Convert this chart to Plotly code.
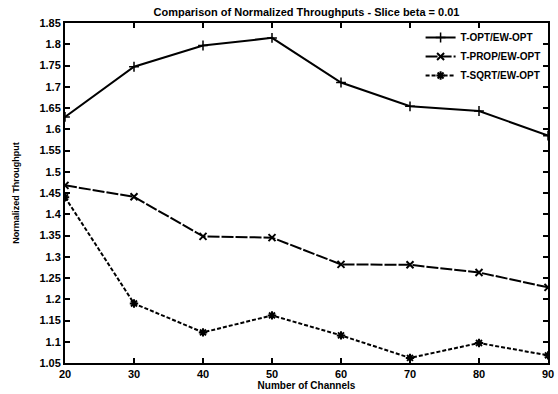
import plotly.graph_objects as go

channels = [20, 30, 40, 50, 60, 70, 80, 90]
t_opt = [1.629, 1.747, 1.797, 1.815, 1.710, 1.654, 1.643, 1.585]
t_prop = [1.468, 1.441, 1.348, 1.345, 1.282, 1.281, 1.263, 1.228]
t_sqrt = [1.440, 1.190, 1.122, 1.162, 1.115, 1.062, 1.097, 1.068]

y_ticks = [1.05, 1.1, 1.15, 1.2, 1.25, 1.3, 1.35, 1.4, 1.45, 1.5, 1.55, 1.6, 1.65, 1.7, 1.75, 1.8, 1.85]
y_tick_text = ["1.05", "1.1", "1.15", "1.2", "1.25", "1.3", "1.35", "1.4", "1.45", "1.5",
               "1.55", "1.6", "1.65", "1.7", "1.75", "1.8", "1.85"]
x_ticks = [20, 30, 40, 50, 60, 70, 80, 90]

FONT = "Liberation Sans Narrow, Liberation Sans, Arial, sans-serif"

fig = go.Figure()
fig.add_trace(go.Scatter(x=channels, y=t_opt, name="T-OPT/EW-OPT", mode="lines+markers",
                         line=dict(color="black", width=2),
                         marker=dict(symbol="cross-thin", size=7, color="black",
                                     line=dict(color="black", width=1.5))))
fig.add_trace(go.Scatter(x=channels, y=t_prop, name="T-PROP/EW-OPT", mode="lines+markers",
                         line=dict(color="black", width=2, dash="12px,2px"),
                         marker=dict(symbol="x-thin", size=7, color="black",
                                     line=dict(color="black", width=2))))
fig.add_trace(go.Scatter(x=channels, y=t_sqrt, name="T-SQRT/EW-OPT", mode="lines+markers",
                         line=dict(color="black", width=2, dash="4px,2px"),
                         marker=dict(symbol="asterisk", size=7, color="black",
                                     line=dict(color="black", width=2))))

axis_common = dict(showgrid=False, zeroline=False, showline=True, linecolor="black",
                   linewidth=2, mirror="ticks", ticks="inside", ticklen=5, tickwidth=1.5,
                   tickcolor="black",
                   tickfont=dict(family=FONT, size=11, color="black", weight="bold"))

fig.update_layout(
    width=558, height=394,
    margin=dict(l=65, r=4, t=23, b=31),
    paper_bgcolor="white", plot_bgcolor="white",
    title=dict(text="Comparison of Normalized Throughputs - Slice beta = 0.01",
               xref="paper", x=0.5, xanchor="center", yref="container", y=0.98, yanchor="top",
               font=dict(family=FONT, size=11, color="black", weight="bold")),
    xaxis=dict(range=[20, 90], tickvals=x_ticks, ticklabeloverflow="allow", **axis_common,
               title=dict(text="Number of Channels", standoff=0,
                          font=dict(family=FONT, size=10, color="black", weight="bold"))),
    yaxis=dict(range=[1.05, 1.85], tickvals=y_ticks, ticktext=y_tick_text, **axis_common,
               title=dict(text="Normalized Throughput", standoff=18,
                          font=dict(family=FONT, size=9, color="black", weight="bold"))),
    legend=dict(x=0.995, xanchor="right", y=1.0, yanchor="top", bgcolor="rgba(0,0,0,0)",
                font=dict(family=FONT, size=10, color="black", weight="bold"),
                tracegroupgap=0, itemwidth=30),
    showlegend=True,
)

fig.write_html("out.html")
